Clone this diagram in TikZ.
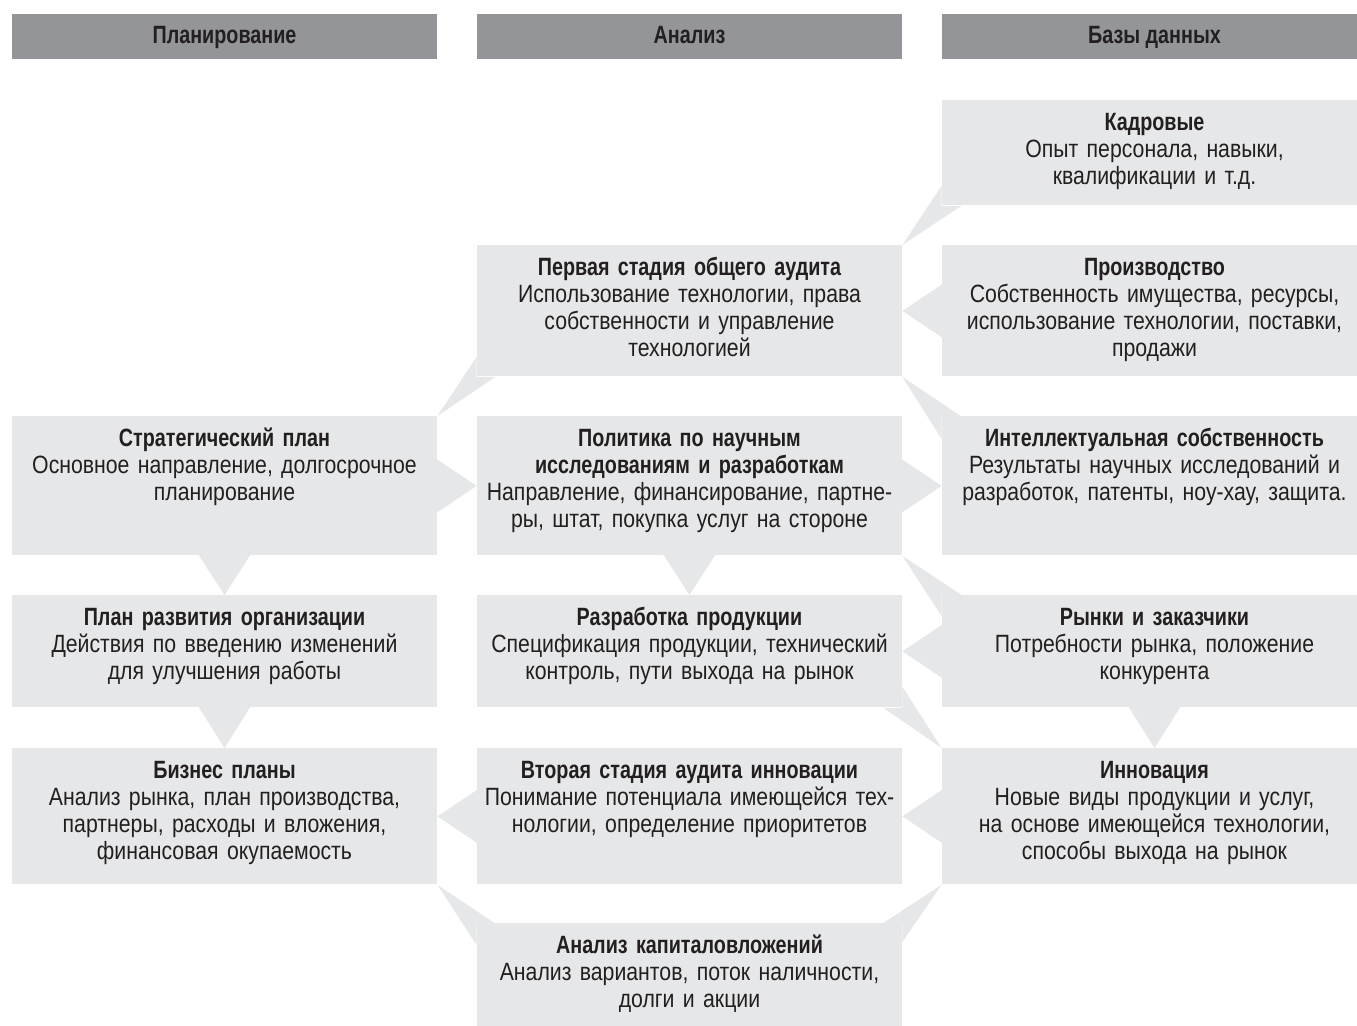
\documentclass[tikz,border=0pt]{standalone}
\usepackage{fontspec}
\setmainfont{Liberation Sans}[FakeStretch=0.85]
\newfontfamily\headfont{Liberation Sans}[FakeStretch=0.79]
\usetikzlibrary{calc}

\definecolor{boxgray}{HTML}{E6E7E8}
\definecolor{headgray}{HTML}{939598}
\definecolor{ink}{HTML}{231F20}

\newcommand{\boxtitle}[1]{{\headfont\bfseries #1}}

\begin{document}
\begin{tikzpicture}[x=0.5pt, y=-0.5pt,
  head/.style={fill=headgray, text=ink, minimum width=212.5pt, minimum height=22.5pt,
    text height=9pt, text depth=2.5pt, inner sep=0pt, anchor=north,
    font=\headfont\bfseries\fontsize{12.5}{13.5}\selectfont},
  infobox/.style={fill=boxgray, text=ink, text width=212.5pt, align=center, inner sep=0pt,
    text height=15pt, text depth=#1, anchor=north, font=\fontsize{12.5}{13.5}\selectfont},
  tip/.style={fill=boxgray}]
  \useasboundingbox (0,0) rectangle (1357,1026);
  \clip (0,0) rectangle (1357,1026);

  % column heads
  \node[head] (hplan) at (224.5,14)  {Планирование};
  \node[head] (hanal) at (689.5,14)  {Анализ};
  \node[head] (hbase) at (1154.5,14) {Базы данных};

  % planning
  \node[infobox=54.5pt] (strat) at (224.5,416)
    {\boxtitle{Стратегический план}\\ Основное направление, долгосрочное\\ планирование};
  \node[infobox=41pt] (orgplan) at (224.5,595)
    {\boxtitle{План развития организации}\\ Действия по введению изменений\\ для улучшения работы};
  \node[infobox=53pt] (biznes) at (224.5,748)
    {\boxtitle{Бизнес планы}\\ Анализ рынка, план производства,\\ партнеры, расходы и вложения,\\ финансовая окупаемость};

  % analysis
  \node[infobox=50.5pt] (audit1) at (689.5,245)
    {\boxtitle{Первая стадия общего аудита}\\ Использование технологии, права\\ собственности и управление\\ технологией};
  \node[infobox=54.5pt] (polit) at (689.5,416)
    {\boxtitle{Политика по научным}\\ \boxtitle{исследованиям и разработкам}\\ Направление, финансирование, партне-\\ ры, штат, покупка услуг на стороне};
  \node[infobox=41pt] (razrab) at (689.5,595)
    {\boxtitle{Разработка продукции}\\ Спецификация продукции, технический\\ контроль, пути выхода на рынок};
  \node[infobox=53pt] (audit2) at (689.5,748)
    {\boxtitle{Вторая стадия аудита инновации}\\ Понимание потенциала имеющейся тех-\\ нологии, определение приоритетов};
  \node[infobox=36.5pt] (kapital) at (689.5,923)
    {\boxtitle{Анализ капиталовложений}\\ Анализ вариантов, поток наличности,\\ долги и акции};

  % databases
  \node[infobox=37.5pt] (kadr) at (1154.5,100)
    {\boxtitle{Кадровые}\\ Опыт персонала, навыки,\\ квалификации и т.д.};
  \node[infobox=50.5pt] (proizv) at (1154.5,245)
    {\boxtitle{Производство}\\ Собственность имущества, ресурсы,\\ использование технологии, поставки,\\ продажи};
  \node[infobox=54.5pt] (intel) at (1154.5,416)
    {\boxtitle{Интеллектуальная собственность}\\ Результаты научных исследований и\\ разработок, патенты, ноу-хау, защита.};
  \node[infobox=41pt] (rynki) at (1154.5,595)
    {\boxtitle{Рынки и заказчики}\\ Потребности рынка, положение\\ конкурента};
  \node[infobox=53pt] (innov) at (1154.5,748)
    {\boxtitle{Инновация}\\ Новые виды продукции и услуг,\\ на основе имеющейся технологии,\\ способы выхода на рынок};

  % straight pointers
  \fill[tip] ($(strat.east)+(-1,-27)$) -- (polit.west) -- ($(strat.east)+(-1,27)$) -- cycle;
  \fill[tip] ($(polit.east)+(-1,-27)$) -- (intel.west) -- ($(polit.east)+(-1,27)$) -- cycle;
  \fill[tip] ($(proizv.west)+(1,-27)$) -- (audit1.east) -- ($(proizv.west)+(1,27)$) -- cycle;
  \fill[tip] ($(rynki.west)+(1,-27)$) -- (razrab.east) -- ($(rynki.west)+(1,27)$) -- cycle;
  \fill[tip] ($(innov.west)+(1,-27)$) -- (audit2.east) -- ($(innov.west)+(1,27)$) -- cycle;
  \fill[tip] ($(audit2.west)+(1,-27)$) -- (biznes.east) -- ($(audit2.west)+(1,27)$) -- cycle;
  \fill[tip] ($(strat.south)+(-26,-1)$) -- (orgplan.north) -- ($(strat.south)+(26,-1)$) -- cycle;
  \fill[tip] ($(orgplan.south)+(-26,-1)$) -- (biznes.north) -- ($(orgplan.south)+(26,-1)$) -- cycle;
  \fill[tip] ($(polit.south)+(-26,-1)$) -- (razrab.north) -- ($(polit.south)+(26,-1)$) -- cycle;
  \fill[tip] ($(rynki.south)+(-26,-1)$) -- (innov.north) -- ($(rynki.south)+(26,-1)$) -- cycle;

  % corner wedges
  \fill[tip] (audit1.north east) -- ($(kadr.south west)+(0,-20)$) -- (kadr.south west) -- ($(kadr.south west)+(20,0)$) -- cycle;
  \fill[tip] (strat.north east) -- ($(audit1.south west)+(0,-20)$) -- (audit1.south west) -- ($(audit1.south west)+(19,0)$) -- cycle;
  \fill[tip] (audit1.south east) -- ($(intel.north west)+(0,23)$) -- (intel.north west) -- ($(intel.north west)+(19,0)$) -- cycle;
  \fill[tip] (polit.south east) -- ($(rynki.north west)+(0,21)$) -- (rynki.north west) -- ($(rynki.north west)+(20,0)$) -- cycle;
  \fill[tip] (innov.north west) -- ($(razrab.south east)+(0,-21)$) -- (razrab.south east) -- ($(razrab.south east)+(-19,0)$) -- cycle;
  \fill[tip] (biznes.south east) -- ($(kapital.north west)+(0,22)$) -- (kapital.north west) -- ($(kapital.north west)+(18,0)$) -- cycle;
  \fill[tip] (innov.south west) -- ($(kapital.north east)+(-19,0)$) -- (kapital.north east) -- ($(kapital.north east)+(0,19)$) -- cycle;
\end{tikzpicture}
\end{document}
